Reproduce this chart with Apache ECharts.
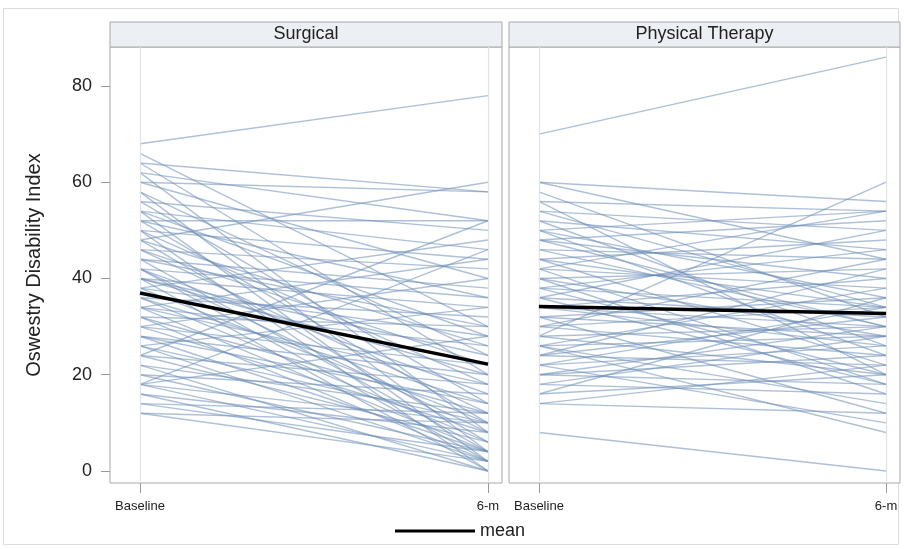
<!DOCTYPE html>
<html><head><meta charset="utf-8">
<script src="https://cdn.jsdelivr.net/npm/echarts@6/dist/echarts.min.js"></script>
<style>html,body{margin:0;padding:0;background:#fff}#c{width:904px;height:549px}</style>
</head><body><div id="c"></div>
<script>
const panels = ['Surgical', 'Physical Therapy'];
const timeLabels = ['Baseline', '6-m'];
const yTicks = [0, 20, 40, 60, 80];
// [baseline, 6-month] per patient
const surgical = [
[68,78],[66,30],[64,58],[64,20],[62,52],[62,8],[60,58],[60,40],[58,24],[58,4],
[56,50],[56,14],[54,46],[54,28],[54,2],[52,52],[52,36],[52,10],[50,44],[50,18],
[50,0],[48,60],[48,26],[48,6],[46,42],[46,22],[46,12],[44,38],[44,4],[44,30],
[42,36],[42,16],[42,8],[42,2],[40,34],[40,20],[40,24],[40,0],[38,48],[38,28],
[38,10],[36,32],[36,14],[36,6],[34,44],[34,26],[34,18],[34,4],[32,30],[32,12],
[32,2],[30,22],[30,8],[30,40],[28,20],[28,4],[28,14],[26,34],[26,10],[26,2],
[24,18],[24,6],[24,52],[22,12],[22,0],[20,16],[20,4],[18,28],[18,10],[18,2],
[18,46],[16,8],[16,0],[14,12],[14,4],[12,10],[12,2]
];
const physical = [
[70,86],[60,56],[60,44],[58,32],[56,54],[56,20],[54,50],[52,46],[50,54],[50,36],
[50,24],[48,52],[48,40],[46,44],[46,30],[44,48],[44,22],[42,38],[42,54],[40,42],
[40,28],[40,16],[38,46],[38,34],[36,32],[36,50],[36,18],[34,40],[34,30],[34,26],
[32,36],[32,12],[32,28],[30,44],[30,34],[30,24],[28,60],[28,30],[28,20],[26,38],
[26,28],[26,14],[26,8],[24,42],[24,32],[24,22],[22,34],[22,26],[22,10],[20,30],
[20,18],[20,24],[18,28],[18,16],[16,20],[16,36],[14,22],[14,12],[8,0],[54,34],
[52,26],[44,34],[38,20],[48,30],[42,18]
];
const meanSurgical = [37.0, 22.2];
const meanPhysical = [34.2, 32.7];

const chart = echarts.init(document.getElementById('c'));
const grids = [
  {left:110, top:47, width:392, height:436, show:true, borderColor:'#a8a8a8', borderWidth:1, backgroundColor:'#fff'},
  {left:509, top:47, width:391, height:436, show:true, borderColor:'#a8a8a8', borderWidth:1, backgroundColor:'#fff'}
];
const xMin = -30/348, xMax = 1 + 14/348;
const xAxes = [0,1].map(i => ({
  type:'value', gridIndex:i, min:xMin, max:xMax, position:'bottom',
  axisLine:{show:false, onZero:false}, splitLine:{show:false},
  axisTick:{show:true, customValues:[0,1], length:10, lineStyle:{color:'#999'}},
  axisLabel:{show:true, customValues:[0,1], formatter:v => timeLabels[Math.round(v)], fontSize:13, color:'#222', margin:17, fontFamily:'Liberation Sans, Arial'}
}));
const yAxes = [0,1].map(i => ({
  type:'value', gridIndex:i, min:-2.5, max:88.1, position:'left',
  name: i===0 ? 'Oswestry Disability Index' : '', nameLocation:'middle', nameGap:66,
  nameTextStyle:{fontSize:20, color:'#222', fontFamily:'Liberation Sans, Arial'},
  axisLine:{show:false, onZero:false}, splitLine:{show:false},
  axisTick:{show:i===0, customValues:yTicks, length:9, lineStyle:{color:'#999'}},
  axisLabel:{show:i===0, customValues:yTicks, fontSize:18, color:'#222', margin:18, fontFamily:'Liberation Sans, Arial'}
}));
const series = [];
function addPanel(data, idx) {
  data.forEach(p => series.push({
    type:'line', xAxisIndex:idx, yAxisIndex:idx, silent:true, symbol:'none',
    data:[[0,p[0]],[1,p[1]]],
    lineStyle:{color:'rgba(108,140,182,0.55)', width:1.4}, z:2
  }));
  series.push({type:'line', xAxisIndex:idx, yAxisIndex:idx, silent:true, symbol:'none', data:[],
    markLine:{silent:true, symbol:'none', label:{show:false}, lineStyle:{color:'#dfe2e7', width:1.2, type:'solid'},
      data:[{xAxis:0},{xAxis:1}]}, z:1});
}
addPanel(surgical, 0);
addPanel(physical, 1);
series.push({name:'mean', type:'line', xAxisIndex:0, yAxisIndex:0, symbol:'none', itemStyle:{color:'#000'},
  data:[[0,meanSurgical[0]],[1,meanSurgical[1]]], lineStyle:{color:'#000', width:3.5}, z:5});
series.push({name:'mean', type:'line', xAxisIndex:1, yAxisIndex:1, symbol:'none', itemStyle:{color:'#000'},
  data:[[0,meanPhysical[0]],[1,meanPhysical[1]]], lineStyle:{color:'#000', width:3.5}, z:5});

const headers = panels.map((t,i) => ({
  type:'group', children:[
    {type:'rect', shape:{x:grids[i].left, y:22, width:grids[i].width, height:25},
      style:{fill:'#eceff3', stroke:'#a8a8a8', lineWidth:1}},
    {type:'text', x:grids[i].left + grids[i].width/2, y:34.5,
      style:{text:t, fontSize:18, fill:'#222', align:'center', verticalAlign:'middle', fontFamily:'Liberation Sans, Arial'}}
  ]
}));

chart.setOption({
  animation:false,
  grid:grids, xAxis:xAxes, yAxis:yAxes, series:series,
  legend:{data:['mean'], left:390, top:517, itemWidth:80, itemHeight:3, icon:'rect', itemGap:8,
    textStyle:{fontSize:18, color:'#222', fontFamily:'Liberation Sans, Arial'}},
  graphic:[
    {type:'rect', shape:{x:3.5, y:8.5, width:895, height:536}, style:{fill:'none', stroke:'#dcdcdc', lineWidth:1}, z:-10},
    ...headers
  ]
});
</script></body></html>
